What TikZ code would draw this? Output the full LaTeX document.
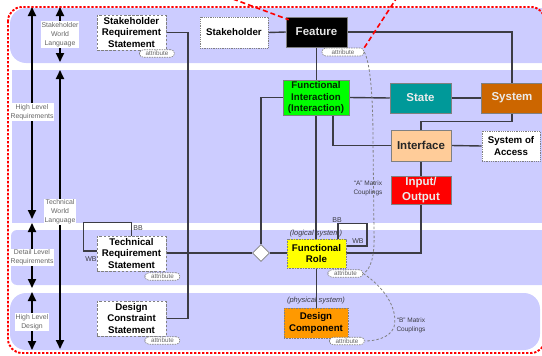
\documentclass[tikz,border=0pt]{standalone}
\usepackage{fontspec}
\setmainfont{Liberation Sans}
\usetikzlibrary{arrows.meta,shapes.geometric,calc}
\pgfdeclarelayer{bands}
\pgfdeclarelayer{lines}
\pgfsetlayers{bands,lines,main}
\definecolor{bandc}{HTML}{CCCCFF}
\definecolor{lnc}{HTML}{3C3C44}
\definecolor{fgreen}{HTML}{00FF00}
\definecolor{statec}{HTML}{009999}
\definecolor{sysc}{HTML}{CC6600}
\definecolor{ifcc}{HTML}{FFCC99}
\definecolor{ioc}{HTML}{FF0000}
\definecolor{frc}{HTML}{FFFF00}
\definecolor{dcc}{HTML}{FF9900}
\definecolor{tagc}{HTML}{666666}
\tikzset{
  box/.style={draw=gray, line width=0.5pt, align=center, inner sep=1pt,
    font=\fontsize{9.7}{11.3}\selectfont\bfseries},
  big/.style={font=\fontsize{11.5}{14.5}\selectfont\bfseries},
  stmt/.style={box, fill=white, draw=gray, line width=0.9pt, dash pattern=on 2.5pt off 1.6pt,
    minimum width=69pt, minimum height=35pt},
  dotbox/.style={box, fill=white, draw=gray, line width=0.8pt, dash pattern=on 0.8pt off 1pt},
  attr/.style={draw=gray, line width=0.6pt, dash pattern=on 1.5pt off 1pt, fill=white,
    rounded corners=3.8pt, minimum width=35pt, minimum height=7.5pt, inner sep=0pt,
    font=\fontsize{6.3}{7}\selectfont, text=tagc},
  conn/.style={draw=lnc, line width=1.4pt},
  coup/.style={draw=gray, line width=0.8pt, dash pattern=on 2.5pt off 2pt},
  tag/.style={font=\fontsize{6.9}{9}\selectfont, text=tagc, fill=white, align=center, inner sep=1pt},
  vert/.style={line width=1.8pt, {Triangle[length=9pt,width=8pt]}-{Triangle[length=9pt,width=8pt]}},
  lbl/.style={font=\fontsize{7}{8}\selectfont, text=lnc, inner sep=0.5pt},
  cpl/.style={font=\fontsize{6.5}{9}\selectfont, text=lnc, align=center, inner sep=0.5pt},
  reddash/.style={draw=red, line width=1.6pt, dash pattern=on 5pt off 3pt}
}
\begin{document}
\begin{tikzpicture}[x=1pt,y=-1pt]
\useasboundingbox (0,0) rectangle (542,356);
\clip (0,0) rectangle (542,356);

% ---------- nodes ----------
\node[stmt] (srs) at (131.5,32.5) {Stakeholder\\Requirement\\Statement};
\node[attr] (srsa) at (157,53.5) {attribute};
\node[dotbox, minimum width=68pt, minimum height=31pt] (stk) at (234,32.5) {Stakeholder};
\node[box, big, fill=black, text=white!90!black, minimum width=61pt, minimum height=30pt] (feat) at (316.5,32) {Feature};
\node[attr, minimum width=42pt, minimum height=8pt] (feata) at (343,52) {attribute};
\node[box, fill=fgreen, text=black!85!green, minimum width=66pt, minimum height=35pt] (fi) at (316,97.5) {Functional\\Interaction\\(Interaction)};
\node[box, big, fill=statec, text=white!92!black, minimum width=61pt, minimum height=30pt] (state) at (420.5,98) {State};
\node[box, big, fill=sysc, text=white!92!black, minimum width=62pt, minimum height=30pt] (sys) at (512,98) {System};
\node[box, big, fill=ifcc, text=black!85, minimum width=60pt, minimum height=31pt] (ifc) at (421,145.5) {Interface};
\node[dotbox, minimum width=58pt, minimum height=30pt] (soa) at (511,146) {System of\\Access};
\node[box, big, fill=ioc, text=white!92!black, minimum width=60pt, minimum height=28pt] (io) at (421,190) {Input/\\Output};
\node[box, fill=frc, dash pattern=on 0.8pt off 0.8pt, minimum width=59pt, minimum height=29pt] (fr) at (316.5,253.5) {Functional\\Role};
\node[attr] (fra) at (345.5,273.5) {attribute};
\node[box, fill=dcc, dash pattern=on 0.8pt off 0.8pt, minimum width=64pt, minimum height=30pt] (dc) at (316,323) {Design\\Component};
\node[attr] (dca) at (347,341) {attribute};
\node[stmt] (trs) at (131.5,253.5) {Technical\\Requirement\\Statement};
\node[attr] (trsa) at (162.5,276.5) {attribute};
\node[stmt] (dcs) at (131.5,318.5) {Design\\Constraint\\Statement};
\node[attr] (dcsa) at (162.5,340.5) {attribute};
\node[diamond, draw=gray, fill=white, line width=0.6pt, minimum width=17pt, minimum height=17pt, inner sep=0pt] (dia) at (261,253) {};

% labels
\node[lbl, font=\fontsize{7.5}{8}\selectfont\itshape] (lgs) at (316,234) {(logical system)};
\node[lbl, font=\fontsize{7.5}{8}\selectfont\itshape] (phs) at (316,301) {(physical system)};
\node[lbl] (bb1) at (337,220) {BB};
\node[lbl] (wb1) at (358,241.5) {WB};
\node[lbl] (bb2) at (138,228.5) {BB};
\node[lbl] (wb2) at (91,259.5) {WB};
\node[cpl] (acpl) at (368,188.5) {“A” Matrix\\Couplings};
\node[cpl] (bcpl) at (411,325) {“B” Matrix\\Couplings};

% ---------- bands ----------
\begin{pgfonlayer}{bands}
  \fill[bandc, rounded corners=16pt] (10,8) rectangle (560,63);
  \fill[bandc] (12,70) rectangle (560,223);
  \fill[bandc, rounded corners=6pt] (11,230) rectangle (560,285);
  \fill[bandc, rounded corners=16pt] (10,293) rectangle (540,350);
\end{pgfonlayer}

% ---------- connectors ----------
\begin{pgfonlayer}{lines}
  \coordinate (busA) at (188,0);
  \draw[conn] (srs.east) -- (srs.east -| busA) -- (busA |- dcs.east) -- (dcs.east);
  \draw[conn] (stk.east) -- (feat.west);
  \draw[conn] (feat.east) -| (sys.north);
  \draw[conn] (feat.south) -- (feat.south |- fi.north);
  \draw[conn] (fi.west) -| (dia.north);
  \draw[conn] (fi.east) -- (state.west);
  \draw[conn] (state.east) -- (sys.west);
  \draw[conn] (sys.south) -- ++(0,8) -| (ifc.north);
  \draw[conn] ([xshift=17pt]fi.south) |- (ifc.west);
  \draw[conn] (ifc.east) -- (soa.west);
  \draw[conn] (ifc.south) -- (io.south |- io.north);
  \draw[conn] (io.south) |- ([yshift=0.5pt]fr.east);
  \draw[conn] (fi.south) -- (fi.south |- fr.north);
  \draw[conn] (fr.south) -- (fr.south |- dc.north);
  \draw[conn] (trs.east |- dia.west) -- (dia.west);
  \draw[conn] (dia.east) -- (dia.east -| fr.west);
  \draw[conn] (trs.north) -- ++(0,-13) -- ++(-48,0) |- ([yshift=2.5pt]trs.west);
  \draw[conn] ([xshift=21.5pt]fr.north) -- ++(0,-15) -- ++(29,0) |- ([yshift=7.5pt]fr.east);
  % couplings
  \draw[coup] (feata.east) .. controls (370,62) and (373,95) .. (373,140) -- (374,232)
      .. controls (375,258) and (370,270) .. (fra.east);
  \draw[coup] (fra.east) .. controls (388,290) and (398,312) .. (394,327)
      .. controls (390,338) and (375,341) .. (dca.east);
\end{pgfonlayer}

% ---------- left arrows ----------
\coordinate (a1t) at (32,7);   \coordinate (a1b) at (32,219);
\coordinate (a2t) at (32,223); \coordinate (a2b) at (32,288);
\coordinate (a3t) at (32,292); \coordinate (a3b) at (32,350);
\coordinate (b1t) at (60,7);   \coordinate (b1b) at (60,62);
\coordinate (b2t) at (60,70);  \coordinate (b2b) at (60,349);
\draw[vert] (a1t) -- (a1b);
\draw[vert] (a2t) -- (a2b);
\draw[vert] (a3t) -- (a3b);
\draw[vert] (b1t) -- (b1b);
\draw[vert] (b2t) -- (b2b);
\node[tag] (t1) at (32,112) {High Level\\Requirements};
\node[tag] (t2) at (32,257.5) {Detail Level\\Requirements};
\node[tag] (t3) at (32,322) {High Level\\Design};
\node[tag] (t4) at (60,34.5) {Stakeholder\\World\\Language};
\node[tag] (t5) at (60,212) {Technical\\World\\Language};

% ---------- red callouts and border ----------
\coordinate (r1) at (233,-1);
\coordinate (r2) at (396,-1);
\draw[reddash] (r1) -- ([xshift=3pt,yshift=-3pt]feat.north west);
\draw[reddash] (feata.north east) -- (r2);
\draw[red, line width=1.9pt, dash pattern=on 2.4pt off 1.6pt, rounded corners=14pt] (8,7) rectangle (545,353);
\end{tikzpicture}
\end{document}
